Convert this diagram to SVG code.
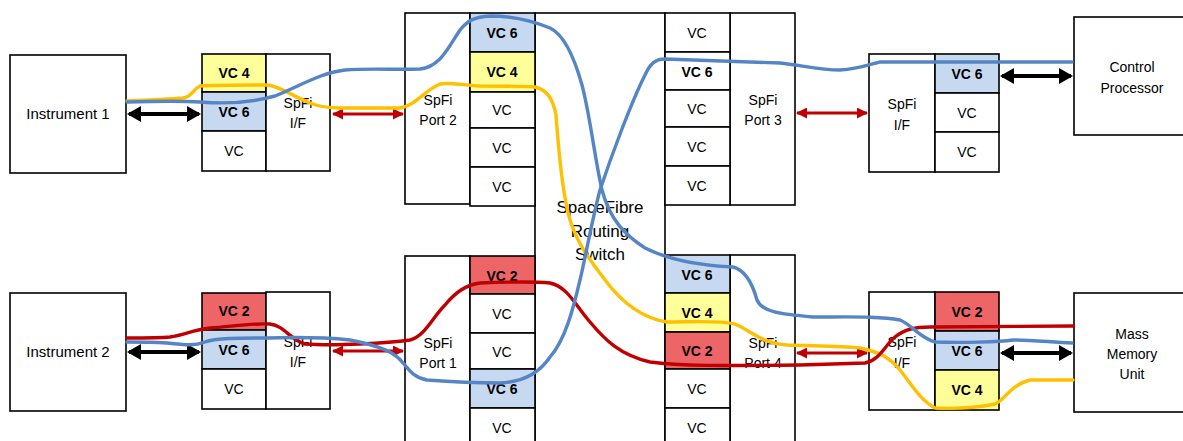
<svg xmlns="http://www.w3.org/2000/svg" width="1183" height="441" viewBox="0 0 1183 441">
<style>
.box{fill:#fff;stroke:#000;stroke-width:1.6}
.b6{fill:#C6D9F1;stroke:#000;stroke-width:1.6}
.b4{fill:#FFFF99;stroke:#000;stroke-width:1.6}
.b2{fill:#EE6568;stroke:#000;stroke-width:1.6}
text{font-family:"Liberation Sans",Arial,sans-serif;font-size:14px;fill:#000;text-anchor:middle}
.bold{font-weight:bold}
.big{font-size:17px}
.inst{font-size:15px}
.lb{fill:none;stroke:#5585C5;stroke-width:3.4;stroke-linecap:round}
.ly{fill:none;stroke:#FFC000;stroke-width:3.4;stroke-linecap:round}
.lr{fill:none;stroke:#C00000;stroke-width:3.4;stroke-linecap:round}
.ab{stroke:#000;stroke-width:4;marker-start:url(#hb);marker-end:url(#hb)}
.ar{stroke:#C00000;stroke-width:3;marker-start:url(#hr);marker-end:url(#hr)}
</style>
<defs>
<marker id="hb" viewBox="0 0 14 16" refX="12" refY="8" markerWidth="14" markerHeight="16" markerUnits="userSpaceOnUse" orient="auto-start-reverse"><path d="M0,0 L14,8 L0,16 Z" fill="#000"/></marker>
<marker id="hr" viewBox="0 0 11 11" refX="10" refY="5.5" markerWidth="11" markerHeight="11" markerUnits="userSpaceOnUse" orient="auto-start-reverse"><path d="M0,0 L11,5.5 L0,11 Z" fill="#C00000"/></marker>
</defs>

<g id="instrument1"><rect class="box" x="10" y="55" width="116" height="118"/><text class="inst" x="68" y="119">Instrument 1</text></g>
<g id="instrument2"><rect class="box" x="10" y="293" width="116" height="118"/><text class="inst" x="68" y="357">Instrument 2</text></g>

<g id="if1">
<rect class="b4" x="202" y="54" width="64" height="38"/><text class="bold" x="234" y="78">VC 4</text>
<rect class="b6" x="202" y="92" width="64" height="39"/><text class="bold" x="234" y="117">VC 6</text>
<rect class="box" x="202" y="131" width="64" height="40"/><text x="234" y="156">VC</text>
<rect class="box" x="266" y="54" width="64" height="117"/><text x="298" y="108">SpFi</text><text x="298" y="128">I/F</text>
</g>
<g id="if2">
<rect class="b2" x="202" y="293" width="64" height="37"/><text class="bold" x="234" y="316">VC 2</text>
<rect class="b6" x="202" y="330" width="64" height="39"/><text class="bold" x="234" y="355">VC 6</text>
<rect class="box" x="202" y="369" width="64" height="40"/><text x="234" y="394">VC</text>
<rect class="box" x="266" y="292" width="64" height="117"/><text x="298" y="347">SpFi</text><text x="298" y="367">I/F</text>
</g>

<g id="switch"><rect class="box" x="535" y="13" width="130" height="440"/>
<text class="big" x="600" y="213">SpaceFibre</text><text class="big" x="600" y="237">Routing</text><text class="big" x="600" y="260">Switch</text></g>

<g id="port2">
<rect class="box" x="405" y="13" width="65" height="191"/><text x="438" y="105">SpFi</text><text x="438" y="125">Port 2</text>
<rect class="b6" x="470" y="13" width="65" height="39"/><text class="bold" x="502" y="38">VC 6</text>
<rect class="b4" x="470" y="52" width="65" height="40"/><text class="bold" x="502" y="77">VC 4</text>
<rect class="box" x="470" y="92" width="65" height="36"/><text x="502" y="115">VC</text>
<rect class="box" x="470" y="128" width="65" height="39"/><text x="502" y="153">VC</text>
<rect class="box" x="470" y="167" width="65" height="39"/><text x="502" y="192">VC</text>
</g>
<g id="port3">
<rect class="box" x="730" y="13" width="65" height="192"/><text x="763" y="105">SpFi</text><text x="763" y="125">Port 3</text>
<rect class="box" x="665" y="13" width="65" height="39"/><text x="697" y="38">VC</text>
<rect class="box" x="665" y="52" width="65" height="38"/><text class="bold" x="697" y="77">VC 6</text>
<rect class="box" x="665" y="90" width="65" height="37"/><text x="697" y="114">VC</text>
<rect class="box" x="665" y="127" width="65" height="39"/><text x="697" y="152">VC</text>
<rect class="box" x="665" y="166" width="65" height="39"/><text x="697" y="191">VC</text>
</g>
<g id="port1">
<rect class="box" x="405" y="256" width="65" height="200"/><text x="438" y="348">SpFi</text><text x="438" y="368">Port 1</text>
<rect class="b2" x="470" y="256" width="65" height="38"/><text class="bold" x="502" y="281">VC 2</text>
<rect class="box" x="470" y="294" width="65" height="39"/><text x="502" y="319">VC</text>
<rect class="box" x="470" y="333" width="65" height="36"/><text x="502" y="357">VC</text>
<rect class="b6" x="470" y="369" width="65" height="39"/><text class="bold" x="502" y="394">VC 6</text>
<rect class="box" x="470" y="408" width="65" height="45"/><text x="502" y="433">VC</text>
</g>
<g id="port4">
<rect class="box" x="730" y="255" width="65" height="200"/><text x="763" y="348">SpFi</text><text x="763" y="368">Port 4</text>
<rect class="b6" x="665" y="255" width="65" height="38"/><text class="bold" x="697" y="280">VC 6</text>
<rect class="b4" x="665" y="293" width="65" height="39"/><text class="bold" x="697" y="318">VC 4</text>
<rect class="b2" x="665" y="332" width="65" height="37"/><text class="bold" x="697" y="356">VC 2</text>
<rect class="box" x="665" y="369" width="65" height="39"/><text x="697" y="394">VC</text>
<rect class="box" x="665" y="408" width="65" height="45"/><text x="697" y="433">VC</text>
</g>

<g id="if3">
<rect class="box" x="869" y="54" width="66" height="118"/><text x="902" y="109">SpFi</text><text x="902" y="130">I/F</text>
<rect class="b6" x="935" y="54" width="64" height="39"/><text class="bold" x="967" y="79">VC 6</text>
<rect class="box" x="935" y="93" width="64" height="39"/><text x="967" y="118">VC</text>
<rect class="box" x="935" y="132" width="64" height="40"/><text x="967" y="157">VC</text>
</g>
<g id="if4">
<rect class="box" x="869" y="292" width="66" height="118"/><text x="902" y="347">SpFi</text><text x="902" y="368">I/F</text>
<rect class="b2" x="935" y="292" width="64" height="39"/><text class="bold" x="967" y="317">VC 2</text>
<rect class="b6" x="935" y="331" width="64" height="39"/><text class="bold" x="967" y="356">VC 6</text>
<rect class="b4" x="935" y="370" width="64" height="40"/><text class="bold" x="967" y="395">VC 4</text>
</g>

<g id="controlProcessor"><rect class="box" x="1074" y="17" width="120" height="118"/><text x="1132" y="72">Control</text><text x="1132" y="93">Processor</text></g>
<g id="massMemory"><rect class="box" x="1074" y="293" width="120" height="119"/><text x="1132" y="339">Mass</text><text x="1132" y="359">Memory</text><text x="1132" y="379">Unit</text></g>

<g id="connectors">
<line class="ab" x1="129" y1="114" x2="199" y2="114"/>
<line class="ab" x1="129" y1="352" x2="199" y2="352"/>
<line class="ab" x1="1002" y1="76" x2="1071" y2="76"/>
<line class="ab" x1="1002" y1="353" x2="1071" y2="353"/>
<line class="ar" x1="333" y1="114" x2="403" y2="114"/>
<line class="ar" x1="333" y1="351" x2="403" y2="351"/>
<line class="ar" x1="797" y1="113" x2="867" y2="113"/>
<line class="ar" x1="797" y1="353" x2="867" y2="353"/>

<path class="ly" d="M127,101 C150,100 170,99 183,98 C192,97 193,89 200,86 C220,85 250,85 267,85 C280,86 290,95 310,103 C320,107 330,108 340,108 L400,108 C415,106 425,90 440,84 C450,82 460,85 480,86 C500,86 520,86 535,87 C548,90 553,100 556,115 C558,140 561,190 570,220 C578,245 590,260 605,280 C620,300 640,318 667,322 C690,322 720,320 735,324 C750,330 760,343 787,345 C810,346 840,346 860,348 C880,352 890,358 900,370 C912,385 920,400 935,408 C955,409 980,407 995,404 C1005,400 1010,385 1030,380 C1045,380 1060,380 1073,380"/>
<path class="lr" d="M127,338 C145,338 160,338 170,337 C185,335 192,330 210,328 C235,326 255,323 270,324 C285,326 290,340 305,344 C320,345 335,345 360,344 C380,343 395,342 410,340 C425,336 432,318 445,305 C455,293 465,285 480,283 C505,282 530,281 550,283 C568,287 575,305 590,322 C605,340 620,355 650,362 C680,366 720,366 800,365 L865,363 C880,360 885,345 895,337 C905,329 915,327 930,327 L1073,326"/>
<path class="lb" d="M127,102 C160,101 185,101 200,102 C225,104 250,103 275,96 C300,86 320,73 345,70 C370,68 395,70 420,69 C440,67 448,48 460,30 C468,20 475,17 490,16 C515,16 535,22 550,28 C565,35 575,60 582,85 C590,115 595,160 602,190 C610,220 625,235 645,248 C665,258 690,265 733,267 C745,270 752,282 757,300 C762,312 780,314 813,317 C850,317 880,316 900,320 C912,325 920,338 935,342 C960,343 1000,342 1013,340 C1030,340 1050,342 1072,343"/>
<path class="lb" d="M1072,62 C1000,62 940,62 880,62 C870,64 860,69 840,70 C820,70 800,65 780,63 C760,62 720,61 665,59 C655,59 650,64 645,75 C630,105 610,160 600,190 C592,220 586,255 580,280 C573,310 565,340 550,357 C540,372 525,382 500,383 C470,383 440,381 427,380 C412,377 408,368 403,363 C395,352 380,346 350,340 C330,338 300,337 267,338 C240,338 215,338 205,342 C195,346 185,345 167,343 C150,342 140,342 127,342"/>
</g>
</svg>
